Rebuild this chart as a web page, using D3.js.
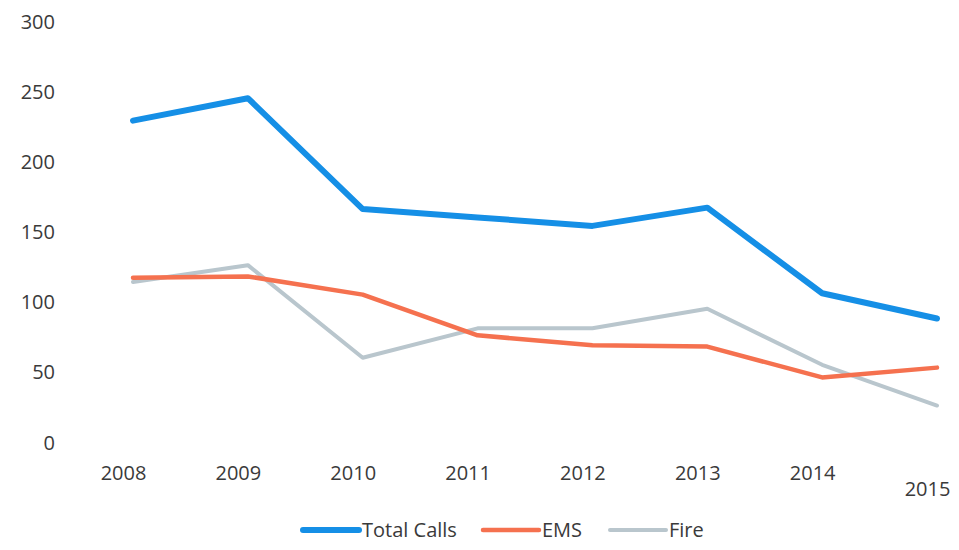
<!DOCTYPE html>
<html>
<head>
<meta charset="utf-8">
<script src="https://cdn.jsdelivr.net/npm/d3@7"></script>
<style>
  body { margin: 0; background: #fff; }
  text { font-family: "Open Sans", "Noto Sans", sans-serif; fill: #3a3a3a; }
</style>
</head>
<body>
<div id="chart"></div>
<script>
// data
const years = ["2008", "2009", "2010", "2011", "2012", "2013", "2014", "2015"];
const totalCalls = [229, 245, 166, 160, 154, 167, 106, 88];
const ems = [117, 118, 105, 76, 69, 68, 46, 53];
const fire = [114, 126, 60, 81, 81, 95, 55, 26];
const yTicks = [0, 50, 100, 150, 200, 250, 300];

const series = [
    {name: "Total Calls", values: totalCalls, color: "#158fe6", width: 6},
    {name: "EMS", values: ems, color: "#f5714f", width: 4.5},
    {name: "Fire", values: fire, color: "#b9c6cd", width: 4}
];

let width = 959, height = 550;

let svg = d3.select("#chart").append("svg")
    .attr("width", width)
    .attr("height", height);

// scales
let x = d3.scalePoint()
    .domain(years)
    .range([133, 937]);

let y = d3.scaleLinear()
    .domain([0, 300])
    .range([442, 21]);

// y axis labels only (no line, no ticks)
let yAxis = d3.axisLeft(y).tickValues(yTicks).tickSize(0).tickPadding(0);
svg.append("g")
    .attr("class", "y-axis")
    .attr("transform", "translate(55,0)")
    .call(yAxis)
    .call(g => g.select(".domain").remove())
    .selectAll("text")
    .attr("font-size", 20)
    .attr("text-anchor", "end")
    .attr("dy", "0.35em");

// x axis labels
let xAxis = d3.axisBottom(x).tickSize(0).tickPadding(0);
svg.append("g")
    .attr("class", "x-axis")
    .attr("transform", "translate(-10,465)")
    .call(xAxis)
    .call(g => g.select(".domain").remove())
    .selectAll("text")
    .attr("font-size", 20)
    .attr("dy", d => d === "2015" ? "1.55em" : "0.75em");

svg.selectAll(".tick text").style("font-family", "'Open Sans', sans-serif").attr("fill", "#3a3a3a");

// lines
let line = d3.line()
    .x((d, i) => x(years[i]))
    .y(d => y(d));

svg.selectAll(".series")
    .data(series.slice().reverse())
    .enter()
    .append("path")
    .attr("class", "series")
    .attr("d", d => line(d.values))
    .attr("fill", "none")
    .attr("stroke", d => d.color)
    .attr("stroke-width", d => d.width)
    .attr("stroke-linecap", "round")
    .attr("stroke-linejoin", "round");

// legend
let legendX = [303, 483, 610];
let legend = svg.selectAll(".legend")
    .data(series)
    .enter()
    .append("g")
    .attr("class", "legend")
    .attr("transform", (d, i) => "translate(" + legendX[i] + ",530)");

legend.append("line")
    .attr("x1", 0).attr("x2", 56)
    .attr("y1", 0).attr("y2", 0)
    .attr("stroke", d => d.color)
    .attr("stroke-width", d => d.width)
    .attr("stroke-linecap", "round");

legend.append("text")
    .attr("x", 59)
    .attr("y", 0)
    .attr("dy", "0.35em")
    .attr("font-size", 20)
    .text(d => d.name);
</script>
</body>
</html>
